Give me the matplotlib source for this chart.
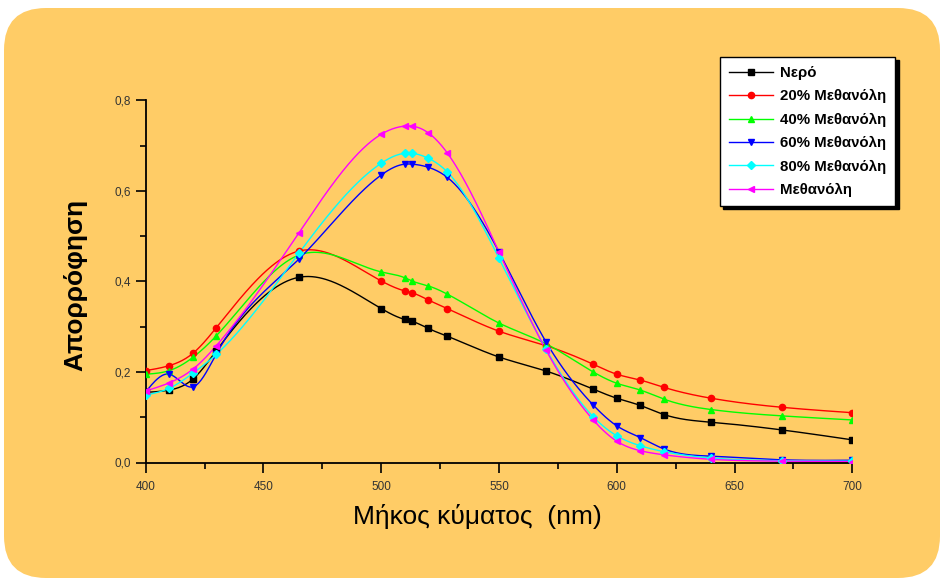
import numpy as np
import matplotlib
matplotlib.use("Agg")
import matplotlib.pyplot as plt
from matplotlib.patches import FancyBboxPatch
from matplotlib.lines import Line2D
from matplotlib.ticker import MultipleLocator, FuncFormatter

# ---- data ----
wavelength = [400, 410, 420, 430, 465, 500, 510, 513, 520, 528, 550, 570,
              590, 600, 610, 620, 640, 670, 700]
nero = [0.155, 0.160, 0.184, 0.247, 0.409, 0.340, 0.316, 0.312, 0.296, 0.279,
        0.233, 0.202, 0.162, 0.142, 0.126, 0.106, 0.089, 0.072, 0.050]
meth20 = [0.203, 0.214, 0.241, 0.298, 0.467, 0.401, 0.379, 0.375, 0.359, 0.340,
          0.290, 0.258, 0.217, 0.195, 0.182, 0.166, 0.142, 0.122, 0.110]
meth40 = [0.195, 0.203, 0.232, 0.280, 0.458, 0.421, 0.408, 0.401, 0.390, 0.372,
          0.308, 0.262, 0.200, 0.175, 0.160, 0.140, 0.117, 0.103, 0.094]
meth60 = [0.156, 0.195, 0.167, 0.240, 0.449, 0.635, 0.659, 0.659, 0.652, 0.630,
          0.465, 0.266, 0.127, 0.081, 0.055, 0.030, 0.014, 0.006, 0.005]
meth80 = [0.149, 0.164, 0.197, 0.239, 0.462, 0.661, 0.683, 0.683, 0.672, 0.642,
          0.451, 0.250, 0.101, 0.059, 0.037, 0.024, 0.010, 0.004, 0.003]
meth100 = [0.158, 0.176, 0.206, 0.258, 0.507, 0.725, 0.743, 0.743, 0.728, 0.684,
           0.465, 0.248, 0.094, 0.047, 0.026, 0.017, 0.007, 0.003, 0.002]

series_labels = ["Νερό", "20% Μεθανόλη", "40% Μεθανόλη", "60% Μεθανόλη",
                 "80% Μεθανόλη", "Μεθανόλη"]
series_values = [nero, meth20, meth40, meth60, meth80, meth100]
colors = ["#000000", "#FF0000", "#00FF00", "#0000FF", "#00FFFF", "#FF00FF"]
markers = ["s", "o", "^", "v", "D", "<"]
xticks = [400, 450, 500, 550, 600, 650, 700]
yticks = [0.0, 0.2, 0.4, 0.6, 0.8]


def natural_spline(x, y, n=600):
    x = np.asarray(x, float)
    y = np.asarray(y, float)
    k = len(x)
    h = np.diff(x)
    A = np.zeros((k, k))
    b = np.zeros(k)
    A[0, 0] = 1
    A[-1, -1] = 1
    for i in range(1, k - 1):
        A[i, i - 1] = h[i - 1]
        A[i, i] = 2 * (h[i - 1] + h[i])
        A[i, i + 1] = h[i]
        b[i] = 6 * ((y[i + 1] - y[i]) / h[i] - (y[i] - y[i - 1]) / h[i - 1])
    M = np.linalg.solve(A, b)
    xs = np.linspace(x[0], x[-1], n)
    idx = np.clip(np.searchsorted(x, xs) - 1, 0, k - 2)
    x0, x1 = x[idx], x[idx + 1]
    hh = x1 - x0
    t0 = x1 - xs
    t1 = xs - x0
    ys = (M[idx] * t0 ** 3 / (6 * hh) + M[idx + 1] * t1 ** 3 / (6 * hh)
          + (y[idx] / hh - M[idx] * hh / 6) * t0
          + (y[idx + 1] / hh - M[idx + 1] * hh / 6) * t1)
    return xs, ys


W, H = 942, 580
fig = plt.figure(figsize=(W / 100, H / 100), dpi=100)
fig.patch.set_facecolor("white")
bg = FancyBboxPatch((4, 2), 936, 570, boxstyle="round,pad=0,rounding_size=42",
                    transform=None, facecolor="#FFCC66", edgecolor="none",
                    zorder=-10)
fig.patches.append(bg)

ax = fig.add_axes([145.7 / W, (H - 462.5) / H, (852.3 - 145.7) / W,
                   (462.5 - 100.3) / H])
ax.patch.set_alpha(0)
for s in ["top", "right"]:
    ax.spines[s].set_visible(False)
for s in ["left", "bottom"]:
    ax.spines[s].set_linewidth(1.3)

handles = []
for lab, vals, c, m in zip(series_labels, series_values, colors, markers):
    xs, ys = natural_spline(wavelength, vals)
    ax.plot(xs, ys, color=c, lw=1.0, zorder=2)
    ax.plot(wavelength, vals, linestyle="none", marker=m, color=c,
            markersize=4.5 if m != "D" else 3.8, zorder=3)
    handles.append(Line2D([], [], color=c, lw=1.0, marker=m,
                          markersize=4.5 if m != "D" else 3.8, label=lab))

ax.set_xlim(400, 700)
ax.set_ylim(0, 0.8)
ax.set_xticks(xticks)
ax.set_yticks(yticks)
ax.xaxis.set_minor_locator(MultipleLocator(25))
ax.yaxis.set_minor_locator(MultipleLocator(0.1))
ax.tick_params(which="major", direction="out", length=7, width=1.2,
               labelsize=8.5, labelcolor="#333333")
ax.tick_params(which="minor", direction="out", length=4, width=1.2)
ax.tick_params(axis="x", pad=6)
ax.yaxis.set_major_formatter(FuncFormatter(lambda v, p: f"{v:.1f}".replace(".", ",")))
for lbl in ax.get_xticklabels() + ax.get_yticklabels():
    lbl.set_fontfamily("Liberation Sans")

ax.set_xlabel("Μήκος κύματος  (nm)", fontsize=19, family="Liberation Sans",
              labelpad=8)
ax.xaxis.set_label_coords(0.47, -0.115)
ax.set_ylabel("Απορρόφηση", fontsize=19, family="Liberation Sans",
              fontweight="bold")
ax.yaxis.set_label_coords(-0.083, 0.49)

leg = fig.legend(handles=handles, loc="upper left",
                 bbox_to_anchor=(720 / W, 1 - 57 / H), borderaxespad=0,
                 frameon=True, fancybox=False,
                 shadow={"color": "black", "alpha": 1, "ox": 2.5, "oy": -2.5},
                 handlelength=2.9, handletextpad=0.5, borderpad=0.6,
                 labelspacing=0.62,
                 prop={"family": "Liberation Sans", "weight": "bold",
                       "size": 10.8})
leg.get_frame().set_edgecolor("black")
leg.get_frame().set_linewidth(1.0)
leg.get_frame().set_facecolor("white")

fig.savefig("out.png", dpi=100, facecolor=fig.get_facecolor())
